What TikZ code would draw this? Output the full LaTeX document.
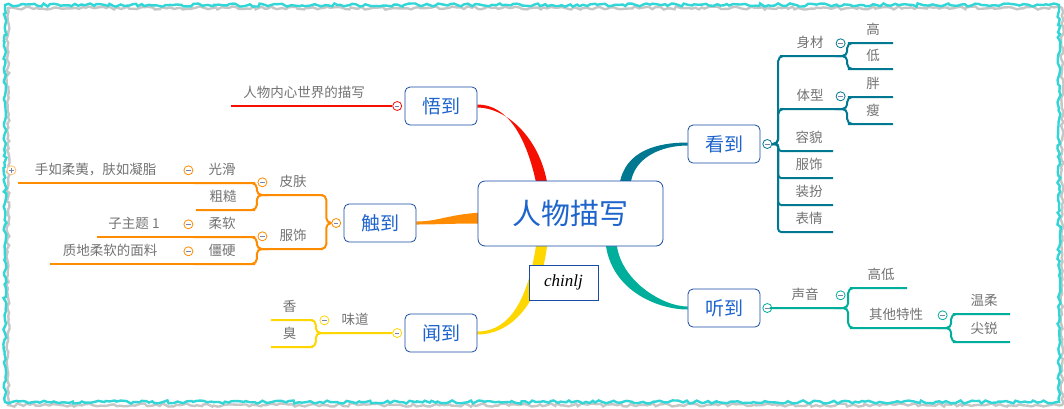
\documentclass[tikz,border=0pt]{standalone}
\usepackage{fontspec}
\newfontfamily\cjk{Noto Sans CJK SC}
\newfontfamily\authorfont{Liberation Serif}
\usetikzlibrary{calc,positioning,backgrounds,decorations.pathmorphing}
\definecolor{framecyan}{RGB}{50,214,214}
\definecolor{boxblue}{RGB}{25,75,165}
\definecolor{textblue}{RGB}{30,100,205}
\definecolor{leafgray}{RGB}{115,115,115}
\definecolor{knobgray}{RGB}{120,130,170}
\definecolor{wuc}{RGB}{245,15,0}
\definecolor{chuc}{RGB}{255,140,0}
\definecolor{wenc}{RGB}{255,215,0}
\definecolor{kanc}{RGB}{0,120,145}
\definecolor{tingc}{RGB}{0,175,155}
\begin{document}
\begin{tikzpicture}[x=1pt, y=-1pt,
    topic/.style={draw=boxblue, fill=white, rounded corners=5pt, line width=0.8pt, text=textblue,
        font=\cjk\fontsize{19}{22}\selectfont, minimum width=72pt, minimum height=38pt, inner sep=0pt},
    leaf/.style={anchor=south, text=leafgray, font=\cjk\fontsize{13.5}{15}\selectfont, inner xsep=0pt,
        inner ysep=6pt, text height=10.5pt, text depth=2.5pt, minimum width=#1},
    knob/.style={circle, draw=#1, fill=white, line width=0.8pt, minimum size=9pt, inner sep=0pt,
        path picture={\draw[knobgray, line width=0.7pt] ([xshift=-2.2pt]path picture bounding box.center)
            -- ([xshift=2.2pt]path picture bounding box.center);}},
    plusknob/.style={knob=#1, path picture={\draw[knobgray, line width=0.7pt]
            ([xshift=-2.2pt]path picture bounding box.center) -- ([xshift=2.2pt]path picture bounding box.center)
            ([yshift=-2.2pt]path picture bounding box.center) -- ([yshift=2.2pt]path picture bounding box.center);}},
    twig/.style={draw=#1, line width=2pt, rounded corners=5pt},
    jagged/.style={decorate, decoration={random steps, segment length=3.5pt, amplitude=1.6pt}, line width=2.4pt}]
    \useasboundingbox (0,0) rectangle (1064,408);
    \draw[jagged, gray!45] (8,8) rectangle (1062,405);
    \draw[jagged, framecyan] (5,5) rectangle (1059,402);

    \node[topic, minimum width=185pt, minimum height=65pt, rounded corners=7pt,
        font=\cjk\fontsize{29}{32}\selectfont] (root) at (570.5,213.5) {人物描写};
    \node[draw=boxblue, fill=white, line width=0.8pt, minimum width=69pt, minimum height=35pt,
        font=\authorfont\itshape\fontsize{17}{19}\selectfont] (author) at (563.5,282.5) {chinlj};
    \node[topic] (wu) at (441,106) {悟到};
    \node[topic] (chu) at (380,223) {触到};
    \node[topic] (wen) at (441,333) {闻到};
    \node[topic] (kan) at (724,144) {看到};
    \node[topic] (ting) at (724,308) {听到};
    \node[knob=wuc, left=2.5pt of wu] (wk) {};
    \node[knob=chuc, left=2.5pt of chu] (ck) {};
    \node[knob=wenc, left=2.5pt of wen] (wnk) {};
    \node[knob=kanc, right=2pt of kan] (kk) {};
    \node[knob=tingc, right=2pt of ting] (tk) {};

    \begin{scope}[on background layer]
        \fill[white] (0,0) rectangle (1064,408);
        \fill[wuc] ($(root.north)+(-34,4)$) .. controls +(-10,-48) and +(30,0) .. ($(wu.east)+(0,-1.5)$)
            -- ($(wu.east)+(0,1.5)$) .. controls +(28,0) and +(-8,-48) .. ($(root.north)+(-23,4)$) -- cycle;
        \fill[chuc] ($(root.west)+(4,-1)$) .. controls +(-34,2) and +(22,0) .. ($(chu.east)+(0,-1.5)$)
            -- ($(chu.east)+(0,1.5)$) .. controls +(22,0) and +(-34,0) .. ($(root.west)+(4,10)$) -- cycle;
        \fill[wenc] ($(root.south)+(-34,-4)$) .. controls +(-10,70) and +(25,0) .. ($(wen.east)+(0,-1.5)$)
            -- ($(wen.east)+(0,1.5)$) .. controls +(28,0) and +(-8,70) .. ($(root.south)+(-23,-4)$) -- cycle;
        \fill[kanc] ($(root.north)+(49,4)$) .. controls +(5,-34) and +(-30,0) .. ($(kan.west)+(0,-1.5)$)
            -- ($(kan.west)+(0,1.5)$) .. controls +(-25,0) and +(3,-28) .. ($(root.north)+(60,4)$) -- cycle;
        \fill[tingc] ($(root.south)+(35,-4)$) .. controls +(5,48) and +(-30,0) .. ($(ting.west)+(0,1.5)$)
            -- ($(ting.west)+(0,-1.5)$) .. controls +(-25,0) and +(3,38) .. ($(root.south)+(46,-4)$) -- cycle;
    \end{scope}

    \node[leaf=145pt] (neixin) at (304,106) {人物内心世界的描写};
    \draw[twig=wuc] (wk.west) -- (neixin.south east) -- (neixin.south west);

    \node[leaf=50pt] (pifu) at (293,195) {皮肤};
    \node[leaf=50pt] (fushi) at (293,249) {服饰};
    \node[leaf=56pt] (guanghua) at (222,183) {光滑};
    \node[leaf=54pt] (cucao) at (223,210) {粗糙};
    \node[leaf=56pt] (rouruan) at (222,237) {柔软};
    \node[leaf=56pt] (jiangying) at (222,264) {僵硬};
    \node[leaf=155pt] (shouru) at (95.5,183) {手如柔荑，肤如凝脂};
    \node[leaf=74pt] (zizhuti) at (134,237) {子主题 1};
    \node[leaf=120pt] (zhidi) at (110,264) {质地柔软的面料};
    \foreach \n in {pifu,fushi,guanghua,rouruan,jiangying}
        \node[knob=chuc, left=0.5pt of \n] {};
    \node[plusknob=chuc!55, left=1.5pt of shouru] {};
    \draw[twig=chuc] (ck.west) -- ++(-5,0) |- (pifu.south east) -- (pifu.south west);
    \draw[twig=chuc] (ck.west) -- ++(-5,0) |- (fushi.south east) -- (fushi.south west);
    \draw[twig=chuc] (pifu.south west) -- ++(-11,0) |- (guanghua.south east) -- (guanghua.south west);
    \draw[twig=chuc] (pifu.south west) -- ++(-11,0) |- (cucao.south east) -- (cucao.south west);
    \draw[twig=chuc] (fushi.south west) -- ++(-11,0) |- (rouruan.south east) -- (rouruan.south west);
    \draw[twig=chuc] (fushi.south west) -- ++(-11,0) |- (jiangying.south east) -- (jiangying.south west);
    \draw[twig=chuc] (guanghua.south west) -- (shouru.south east) -- (shouru.south west);
    \draw[twig=chuc] (rouruan.south west) -- (zizhuti.south east) -- (zizhuti.south west);
    \draw[twig=chuc] (jiangying.south west) -- (zhidi.south east) -- (zhidi.south west);

    \node[leaf=50pt] (weidao) at (355,333) {味道};
    \node[leaf=37pt] (xiang) at (289.5,320) {香};
    \node[leaf=37pt] (chou) at (289.5,347) {臭};
    \node[knob=wenc, left=0.5pt of weidao] {};
    \draw[twig=wenc] (wnk.west) -- (weidao.south east) -- (weidao.south west) -- ++(-14,0) |- (xiang.south east) -- (xiang.south west);
    \draw[twig=wenc] (weidao.south west) -- ++(-14,0) |- (chou.south east) -- (chou.south west);

    \node[leaf=50pt] (shencai) at (810,56) {身材};
    \node[leaf=40pt] (gao) at (873,43) {高};
    \node[leaf=40pt] (di) at (873,69) {低};
    \node[leaf=50pt] (tixing) at (810,109) {体型};
    \node[leaf=40pt] (pang) at (873,97) {胖};
    \node[leaf=40pt] (shou) at (873,124) {瘦};
    \node[knob=kanc, right=0.5pt of shencai] {};
    \node[knob=kanc, right=0.5pt of tixing] {};
    \draw[twig=kanc] (kk.east) -- ++(6,0) |- (shencai.south west) -- (shencai.south east) -- ++(12,0) |- (gao.south west) -- (gao.south east);
    \draw[twig=kanc] (shencai.south east) -- ++(12,0) |- (di.south west) -- (di.south east);
    \draw[twig=kanc] (kk.east) -- ++(6,0) |- (tixing.south west) -- (tixing.south east) -- ++(12,0) |- (pang.south west) -- (pang.south east);
    \draw[twig=kanc] (tixing.south east) -- ++(12,0) |- (shou.south west) -- (shou.south east);
    \foreach \n/\t/\y in {rongmao/容貌/151, fushii/服饰/178, zhuangban/装扮/205, biaoqing/表情/232}{
        \node[leaf=48pt] (\n) at (809,\y) {\t};
        \draw[twig=kanc, rounded corners=3pt] (kk.east) -- ++(6,0) |- (\n.south west) -- (\n.south east);
    }

    \node[leaf=60pt] (shengyin) at (805,308) {声音};
    \node[leaf=52pt] (gaodi) at (881,288) {高低};
    \node[leaf=82pt] (qita) at (896,328) {其他特性};
    \node[leaf=52pt] (wenrou) at (984,314) {温柔};
    \node[leaf=52pt] (jianrui) at (984,342) {尖锐};
    \node[knob=tingc, right=0.5pt of shengyin] {};
    \node[knob=tingc, right=0.5pt of qita] {};
    \draw[twig=tingc] (tk.east) -- (shengyin.south west) -- (shengyin.south east) -- ++(13,0) |- (gaodi.south west) -- (gaodi.south east);
    \draw[twig=tingc] (shengyin.south east) -- ++(13,0) |- (qita.south west) -- (qita.south east) -- ++(14,0) |- (wenrou.south west) -- (wenrou.south east);
    \draw[twig=tingc] (qita.south east) -- ++(14,0) |- (jianrui.south west) -- (jianrui.south east);
\end{tikzpicture}
\end{document}
